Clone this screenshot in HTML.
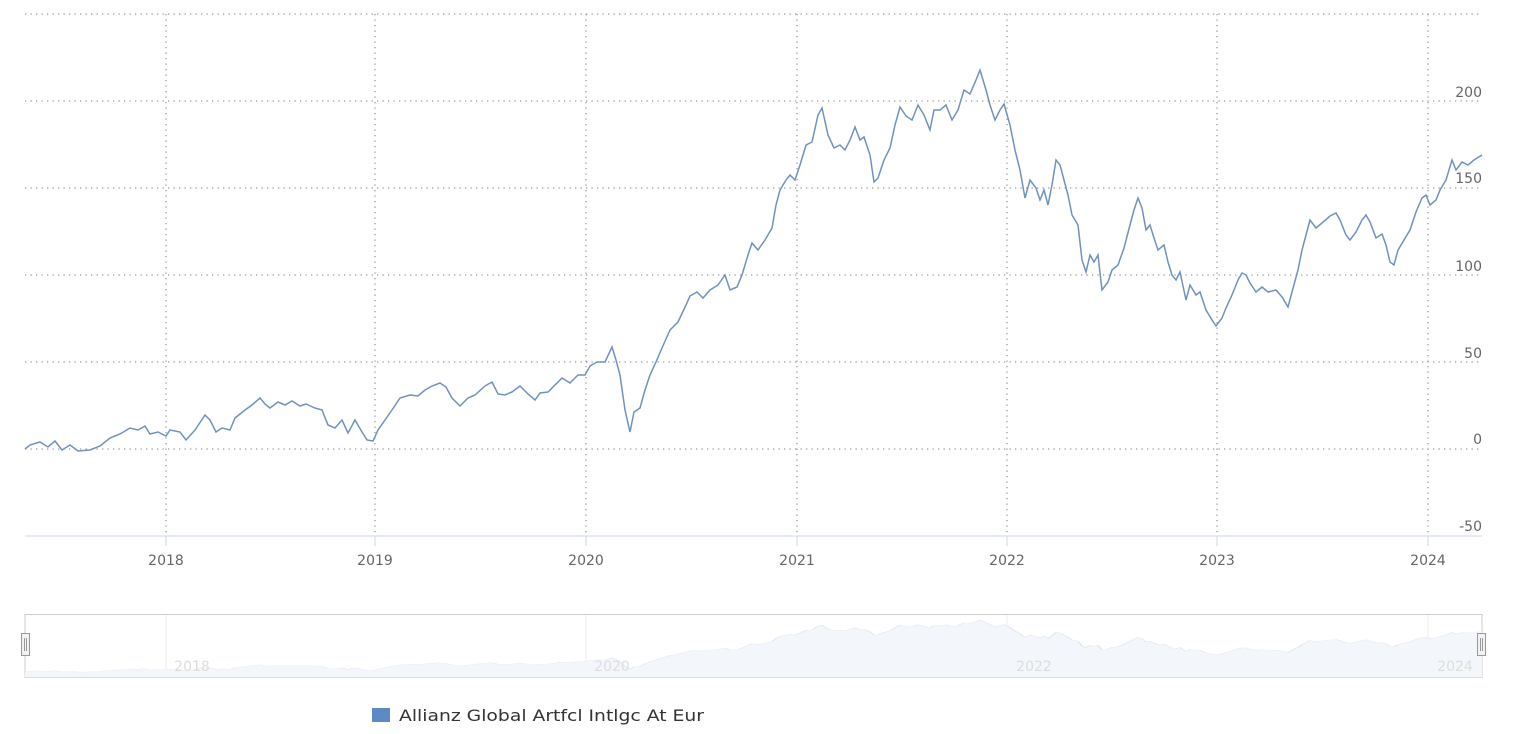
<!DOCTYPE html>
<html><head><meta charset="utf-8"><style>
body{margin:0;background:#fff;}
svg{display:block;font-family:"DejaVu Sans","Liberation Sans",sans-serif;}
</style></head><body>
<svg width="1520" height="734" viewBox="0 0 1520 734">
<defs>
<polyline id="ln" fill="none" points="25,449 30,445 40,442 48,447 55,441 62,450 70,445 78,451 90,450 100,446 110,438 120,434 130,428 138,430 145,426 150,434 158,432 166,436 170,430 180,432 186,440 195,430 205,415 210,420 216,432 222,428 230,430 235,418 245,410 252,405 260,398 265,404 270,408 278,402 285,405 292,401 300,406 306,404 315,408 322,410 328,425 335,428 342,420 348,433 355,420 362,432 367,440 373,441 378,430 385,420 392,410 400,398 410,395 418,396 425,390 432,386 440,383 446,387 452,398 460,406 468,398 475,395 485,386 492,382 498,394 505,395 512,392 520,386 528,394 535,400 540,393 548,392 555,385 562,378 570,383 578,375 585,375 590,366 597,362 605,362 612,347 616,360 620,375 625,410 630,432 634,412 640,408 645,390 650,375 656,362 662,348 670,330 678,322 686,305 690,296 697,292 703,298 710,290 718,285 725,275 730,290 737,287 742,275 748,255 752,243 758,250 765,240 772,228 776,205 780,190 786,180 790,175 795,180 800,165 806,145 812,142 818,115 822,108 828,135 834,148 840,145 845,150 850,140 855,127 860,140 864,137 870,155 874,182 878,178 884,160 890,148 895,125 900,107 906,116 912,120 918,105 924,115 930,130 934,110 940,110 946,105 952,120 958,110 964,90 970,94 976,80 980,70 986,90 990,105 995,120 1000,110 1004,104 1010,125 1015,150 1020,170 1025,198 1030,180 1036,188 1040,200 1044,190 1048,205 1052,185 1056,160 1060,165 1064,180 1068,195 1072,215 1078,225 1082,260 1086,272 1090,255 1094,262 1098,255 1102,290 1108,282 1112,270 1118,265 1124,248 1130,225 1134,210 1138,198 1142,208 1146,230 1150,225 1154,238 1158,250 1164,245 1168,262 1172,275 1176,280 1180,272 1186,300 1190,285 1196,295 1200,292 1206,310 1212,320 1216,326 1222,318 1226,308 1232,295 1238,280 1242,273 1246,275 1250,283 1256,292 1262,287 1268,292 1276,290 1282,297 1288,307 1292,292 1298,270 1302,250 1306,235 1310,220 1316,228 1322,223 1330,216 1336,213 1340,220 1346,235 1350,240 1356,232 1362,220 1366,215 1370,222 1376,238 1382,234 1386,245 1390,262 1394,265 1398,250 1404,240 1410,230 1416,212 1422,198 1426,195 1430,205 1436,200 1440,190 1446,180 1452,160 1456,170 1462,162 1468,165 1474,160 1482,155"/>
</defs>
<g stroke="#999" stroke-width="1.3" stroke-dasharray="1.3,4.2">
<line x1="25" y1="14" x2="1482" y2="14"/>
<line x1="25" y1="101" x2="1482" y2="101"/>
<line x1="25" y1="188" x2="1482" y2="188"/>
<line x1="25" y1="275" x2="1482" y2="275"/>
<line x1="25" y1="362" x2="1482" y2="362"/>
<line x1="25" y1="449" x2="1482" y2="449"/>
<line x1="166" y1="14" x2="166" y2="536"/>
<line x1="375" y1="14" x2="375" y2="536"/>
<line x1="586" y1="14" x2="586" y2="536"/>
<line x1="797" y1="14" x2="797" y2="536"/>
<line x1="1007" y1="14" x2="1007" y2="536"/>
<line x1="1217" y1="14" x2="1217" y2="536"/>
<line x1="1428" y1="14" x2="1428" y2="536"/>
</g>
<line x1="25" y1="536" x2="1482" y2="536" stroke="#ccd6eb" stroke-width="1"/>
<g stroke="#ccd6eb"><line x1="166" y1="536" x2="166" y2="546"/><line x1="375" y1="536" x2="375" y2="546"/><line x1="586" y1="536" x2="586" y2="546"/><line x1="797" y1="536" x2="797" y2="546"/><line x1="1007" y1="536" x2="1007" y2="546"/><line x1="1217" y1="536" x2="1217" y2="546"/><line x1="1428" y1="536" x2="1428" y2="546"/></g>
<use href="#ln" stroke="#6f92c0" stroke-width="1.5"/>
<g fill="#666" font-size="14" text-anchor="end">
<text x="1482" y="97">200</text><text x="1482" y="183">150</text><text x="1482" y="271">100</text><text x="1482" y="358">50</text><text x="1482" y="444">0</text><text x="1482" y="531">-50</text>
</g>
<g fill="#666" font-size="14" text-anchor="middle">
<text x="166" y="565">2018</text><text x="375" y="565">2019</text><text x="586" y="565">2020</text><text x="797" y="565">2021</text><text x="1007" y="565">2022</text><text x="1217" y="565">2023</text><text x="1428" y="565">2024</text>
</g>
<rect x="25" y="614.5" width="1457" height="63" fill="#fff" stroke="#ccc"/>
<g stroke="#eee"><line x1="166" y1="615" x2="166" y2="677"/><line x1="586" y1="615" x2="586" y2="677"/><line x1="1007" y1="615" x2="1007" y2="677"/><line x1="1428" y1="615" x2="1428" y2="677"/></g>
<g transform="translate(0,610.45) scale(1,0.1365)">
<polygon fill="#f3f6fb" points="25,490 25,449 30,445 40,442 48,447 55,441 62,450 70,445 78,451 90,450 100,446 110,438 120,434 130,428 138,430 145,426 150,434 158,432 166,436 170,430 180,432 186,440 195,430 205,415 210,420 216,432 222,428 230,430 235,418 245,410 252,405 260,398 265,404 270,408 278,402 285,405 292,401 300,406 306,404 315,408 322,410 328,425 335,428 342,420 348,433 355,420 362,432 367,440 373,441 378,430 385,420 392,410 400,398 410,395 418,396 425,390 432,386 440,383 446,387 452,398 460,406 468,398 475,395 485,386 492,382 498,394 505,395 512,392 520,386 528,394 535,400 540,393 548,392 555,385 562,378 570,383 578,375 585,375 590,366 597,362 605,362 612,347 616,360 620,375 625,410 630,432 634,412 640,408 645,390 650,375 656,362 662,348 670,330 678,322 686,305 690,296 697,292 703,298 710,290 718,285 725,275 730,290 737,287 742,275 748,255 752,243 758,250 765,240 772,228 776,205 780,190 786,180 790,175 795,180 800,165 806,145 812,142 818,115 822,108 828,135 834,148 840,145 845,150 850,140 855,127 860,140 864,137 870,155 874,182 878,178 884,160 890,148 895,125 900,107 906,116 912,120 918,105 924,115 930,130 934,110 940,110 946,105 952,120 958,110 964,90 970,94 976,80 980,70 986,90 990,105 995,120 1000,110 1004,104 1010,125 1015,150 1020,170 1025,198 1030,180 1036,188 1040,200 1044,190 1048,205 1052,185 1056,160 1060,165 1064,180 1068,195 1072,215 1078,225 1082,260 1086,272 1090,255 1094,262 1098,255 1102,290 1108,282 1112,270 1118,265 1124,248 1130,225 1134,210 1138,198 1142,208 1146,230 1150,225 1154,238 1158,250 1164,245 1168,262 1172,275 1176,280 1180,272 1186,300 1190,285 1196,295 1200,292 1206,310 1212,320 1216,326 1222,318 1226,308 1232,295 1238,280 1242,273 1246,275 1250,283 1256,292 1262,287 1268,292 1276,290 1282,297 1288,307 1292,292 1298,270 1302,250 1306,235 1310,220 1316,228 1322,223 1330,216 1336,213 1340,220 1346,235 1350,240 1356,232 1362,220 1366,215 1370,222 1376,238 1382,234 1386,245 1390,262 1394,265 1398,250 1404,240 1410,230 1416,212 1422,198 1426,195 1430,205 1436,200 1440,190 1446,180 1452,160 1456,170 1462,162 1468,165 1474,160 1482,155 1482,490"/>
</g>
<use href="#ln" stroke="#dde3ef" stroke-width="1.5" vector-effect="non-scaling-stroke" transform="translate(0,610.45) scale(1,0.1365)"/>
<g fill="#ddd" font-size="14" text-anchor="middle">
<text x="192" y="671">2018</text><text x="612" y="671">2020</text><text x="1034" y="671">2022</text><text x="1455" y="671">2024</text>
</g>
<g fill="#f2f2f2" stroke="#999">
<rect x="21.5" y="633.5" width="8" height="22"/><rect x="1477.5" y="633.5" width="8" height="22"/>
</g>
<g stroke="#999"><line x1="24.5" y1="638" x2="24.5" y2="651"/><line x1="26.5" y1="638" x2="26.5" y2="651"/><line x1="1480.5" y1="638" x2="1480.5" y2="651"/><line x1="1482.5" y1="638" x2="1482.5" y2="651"/></g>
<rect x="372" y="708" width="18" height="14" fill="#5b8ac6"/>
<text x="399" y="721" font-size="16" fill="#333" textLength="305" lengthAdjust="spacingAndGlyphs">Allianz Global Artfcl Intlgc At Eur</text>
</svg>
</body></html>
